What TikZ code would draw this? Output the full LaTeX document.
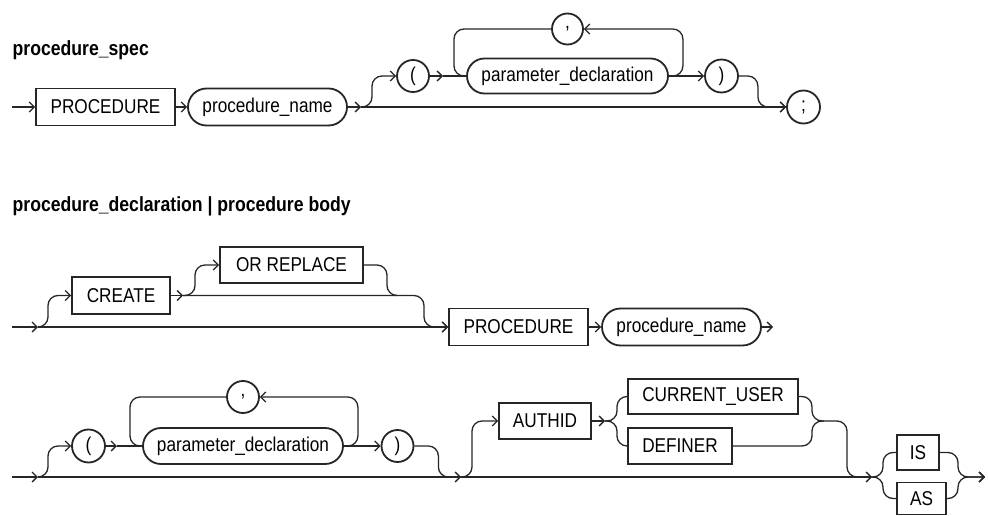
\documentclass[tikz,border=0pt]{standalone}
\usepackage{fontspec}
\setmainfont{Liberation Sans}[FakeStretch=0.86]
\usetikzlibrary{arrows.meta,shapes.misc,calc}
\begin{document}
\begin{tikzpicture}[x=1pt,y=-1pt,
  line width=1.3pt, draw=black!85,
  arr/.style={-{Straight Barb[length=5pt,width=10pt]}},
  lbl/.style={font=\fontsize{20}{24}\selectfont},
  kw/.style={lbl,draw,line width=1.8pt,rectangle,inner sep=0pt,minimum height=37pt},
  nt/.style={lbl,draw,line width=1.8pt,rounded rectangle,inner sep=0pt,minimum height=37pt},
  ch/.style={lbl,draw,line width=1.8pt,circle,inner sep=0pt,minimum size=32pt},
  ttl/.style={font=\bfseries\fontsize{20.5}{24}\selectfont,anchor=base west,inner sep=0pt},
  rc/.style={rounded corners=10pt}
]
\useasboundingbox (0,0) rectangle (988,516);

% ---------- procedure_spec ----------
\node[ttl] (t1) at (12,56) {procedure\_spec};
\node[kw,minimum width=139pt] (kw1) at (105.5,107) {PROCEDURE};
\node[nt,minimum width=159pt] (pn1) at (267.5,107) {procedure\_name};
\node[ch] (lp1) at (413,76) {(};
\node[nt,minimum width=201pt,minimum height=35pt] (pd1) at (567.5,76) {parameter\_declaration};
\node[ch,minimum size=31pt] (cm1) at (567.5,29) {,};
\node[ch,minimum size=33pt] (rp1) at (721.5,76) {)};
\node[ch,minimum size=33pt] (sc1) at (803.5,107) {;};

\coordinate (s1) at (12,107);
\coordinate (j1) at (361,107);
\coordinate (j2) at (443,76);
\coordinate (lL1) at (454,76);

\draw[arr] (s1) -- (kw1.west);
\draw[arr] (kw1) -- (pn1);
\draw[arr] (pn1.east) -- (j1);
\draw[arr] (j1) -- (sc1.west);
\draw[arr,rc] (j1) -- ++(11,0) |- (lp1.west);
\draw[arr] (lp1) -- (j2);
\draw (j2) -- (pd1.west);
\draw[arr,rc] (pd1.east) -- ++(14,0) |- (cm1.east);
\draw[rc] (cm1.west) -| (lL1) -- (pd1.west);
\draw[arr] (pd1.east) -- (rp1.west);
\draw[arr,rc] (rp1.east) -- ++(19,0) |- (sc1.west);

% ---------- procedure_declaration | procedure body ----------
\node[ttl] (t2) at (12,211) {procedure\_declaration | procedure body};

% row 1
\node[kw,minimum width=98pt] (cr) at (121,295.5) {CREATE};
\node[kw,minimum width=143pt,minimum height=36pt] (orr) at (291.5,265) {OR REPLACE};
\node[kw,minimum width=139pt] (kw2) at (518.5,327) {PROCEDURE};
\node[nt,minimum width=159pt] (pn2) at (681.5,327) {procedure\_name};

\coordinate (s2) at (12,327);
\coordinate (j3) at (38,327);
\coordinate (j4) at (183,295.5);
\coordinate (m1) at (387,295.5);
\coordinate (m2) at (424,327);
\coordinate (e2) at (773,327);

\draw[arr] (s2) -- (j3);
\draw[arr] (j3) -- (kw2.west);
\draw[arr,rc] (j3) -- ++(10,0) |- (cr.west);
\draw[arr] (cr.east) -- (j4);
\draw[arr,rc] (j4) -- ++(12,0) |- (orr.west);
\draw[rc] (orr.east) -| (m1) -- ++(10,0);
\draw[arr,rc] (j4) -| (m2) -- (kw2.west);
\draw[arr] (kw2) -- (pn2);
\draw[arr] (pn2.east) -- (e2);

% row 2
\node[ch,minimum size=33pt] (lp2) at (88.5,446) {(};
\node[nt,minimum width=200pt,minimum height=36pt] (pd2) at (243,446) {parameter\_declaration};
\node[ch] (cm2) at (243,397) {,};
\node[ch] (rp2) at (397.5,446) {)};
\node[kw,minimum width=92pt,minimum height=36pt] (au) at (545,421) {AUTHID};
\node[kw,minimum width=170pt,minimum height=35pt] (cu) at (713,396.5) {CURRENT\_USER};
\node[kw,minimum width=104pt,minimum height=36pt] (de) at (680,446) {DEFINER};
\node[kw,minimum width=42pt,minimum height=35pt] (is) at (918,452.5) {IS};
\node[kw,minimum width=49pt,minimum height=32pt] (as) at (921.5,498.5) {AS};

\coordinate (s3) at (12,477);
\coordinate (j5) at (38,477);
\coordinate (j6) at (117,446);
\coordinate (lL2) at (130,446);
\coordinate (j7) at (461,477);
\coordinate (j8) at (605,421);
\coordinate (r1) at (812,421);
\coordinate (r2) at (847,477);
\coordinate (j9) at (872,477);
\coordinate (r3) at (958,477);
\coordinate (e3) at (985,477);

\draw[arr] (s3) -- (j5);
\draw[arr] (j5) -- (j7);
\draw[arr] (j7) -- (j9);
\draw[arr,rc] (j5) -- ++(10,0) |- (lp2.west);
\draw[arr] (lp2) -- (j6);
\draw (j6) -- (pd2.west);
\draw[arr,rc] (pd2.east) -- ++(14,0) |- (cm2.east);
\draw[rc] (cm2.west) -| (lL2) -- (pd2.west);
\draw[arr] (pd2.east) -- (rp2.west);
\draw[rc] (rp2.east) -- ++(24,0) |- (j7);
\draw[arr,rc] (j7) -- ++(11,0) |- (au.west);
\draw[arr] (au.east) -- (j8);
\draw[rc] (j8) -- ++(12,0) |- (cu.west);
\draw[rc] (j8) -- ++(12,0) |- (de.west);
\draw[rc] (cu.east) -| (r1) -| (r2) -- (j9);
\draw[rc] (de.east) -| (r1) -- ++(12,0);
\draw[rc] (j9) -- ++(11,0) |- (is.west);
\draw[rc] (j9) -- ++(11,0) |- (as.west);
\draw[arr,rc] (is.east) -| (r3) -- (e3);
\draw[arr,rc] (as.east) -| (r3) -- (e3);
\end{tikzpicture}
\end{document}
